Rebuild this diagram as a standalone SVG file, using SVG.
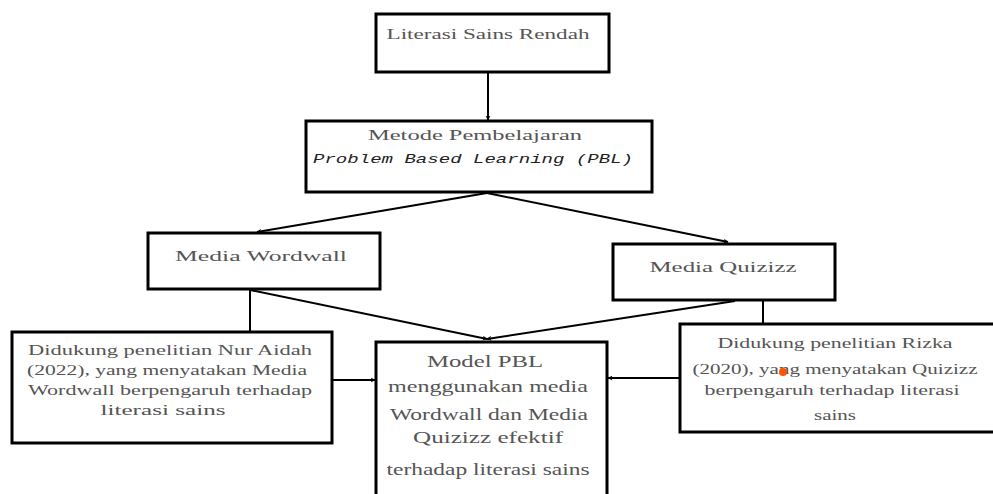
<svg xmlns="http://www.w3.org/2000/svg" width="993" height="494" viewBox="0 0 993 494">
<style>
.box{fill:#fff;stroke:#000;stroke-width:3}
.t{font-family:"Liberation Serif","Times New Roman",serif;fill:#555;text-anchor:middle}
.s15{font-size:15px}
.s17{font-size:17px}
.m{font-family:"Liberation Mono","Courier New",monospace;font-style:italic;font-size:13px;fill:#222;text-anchor:middle}
.c{fill:none;stroke:#000;stroke-width:2}
</style>
<defs>
<marker id="ah" viewBox="0 0 10 10" refX="9" refY="5" markerWidth="5" markerHeight="5" orient="auto" markerUnits="userSpaceOnUse">
<path d="M0,0 L10,5 L0,10 L3,5 Z" fill="#000"/>
</marker>
</defs>
<g id="connectors">
<line class="c" x1="488" y1="72" x2="488" y2="120" marker-end="url(#ah)"/>
<line class="c" x1="487" y1="193" x2="257" y2="232" marker-end="url(#ah)"/>
<line class="c" x1="487" y1="193" x2="728" y2="242" marker-end="url(#ah)"/>
<line class="c" x1="250" y1="290" x2="487" y2="339" marker-end="url(#ah)"/>
<line class="c" x1="735" y1="301" x2="487" y2="339" marker-end="url(#ah)"/>
<line class="c" x1="250" y1="290" x2="250" y2="332"/>
<line class="c" x1="763" y1="301" x2="763" y2="324"/>
<line class="c" x1="332" y1="380" x2="375" y2="380" marker-end="url(#ah)"/>
<line class="c" x1="680" y1="378" x2="608" y2="378" marker-end="url(#ah)"/>
</g>
<g id="n-literasi">
<rect class="box" x="376" y="14" width="233" height="58"/>
<text class="t s15" x="488" y="39" textLength="203" lengthAdjust="spacingAndGlyphs">Literasi Sains Rendah</text>
</g>
<g id="n-metode">
<rect class="box" x="306" y="121" width="346" height="71"/>
<text class="t s15" x="475" y="140" textLength="214" lengthAdjust="spacingAndGlyphs">Metode Pembelajaran</text>
<text class="m" x="473" y="163" textLength="320" lengthAdjust="spacingAndGlyphs">Problem Based Learning (PBL)</text>
</g>
<g id="n-wordwall">
<rect class="box" x="148" y="233" width="232" height="56"/>
<text class="t s15" x="261" y="261" textLength="172" lengthAdjust="spacingAndGlyphs">Media Wordwall</text>
</g>
<g id="n-quizizz">
<rect class="box" x="613" y="244" width="222" height="56"/>
<text class="t s15" x="723" y="272" textLength="147" lengthAdjust="spacingAndGlyphs">Media Quizizz</text>
</g>
<g id="n-nuraidah">
<rect class="box" x="12" y="332" width="320" height="111"/>
<text class="t s15" x="170" y="355" textLength="284" lengthAdjust="spacingAndGlyphs">Didukung penelitian Nur Aidah</text>
<text class="t s15" x="167" y="375" textLength="280" lengthAdjust="spacingAndGlyphs">(2022), yang menyatakan Media</text>
<text class="t s15" x="170" y="395" textLength="284" lengthAdjust="spacingAndGlyphs">Wordwall berpengaruh terhadap</text>
<text class="t s15" x="163" y="415" textLength="125" lengthAdjust="spacingAndGlyphs">literasi sains</text>
</g>
<g id="n-model">
<rect class="box" x="376" y="342" width="231" height="160"/>
<text class="t s17" x="485" y="367" textLength="116" lengthAdjust="spacingAndGlyphs">Model PBL</text>
<text class="t s17" x="488" y="392" textLength="200" lengthAdjust="spacingAndGlyphs">menggunakan media</text>
<text class="t s17" x="489" y="420" textLength="198" lengthAdjust="spacingAndGlyphs">Wordwall dan Media</text>
<text class="t s17" x="488" y="443" textLength="150" lengthAdjust="spacingAndGlyphs">Quizizz efektif</text>
<text class="t s17" x="488" y="475" textLength="203" lengthAdjust="spacingAndGlyphs">terhadap literasi sains</text>
</g>
<g id="n-rizka">
<rect class="box" x="680" y="324" width="330" height="108"/>
<text class="t s15" x="835" y="348" textLength="235" lengthAdjust="spacingAndGlyphs">Didukung penelitian Rizka</text>
<text class="t s15" x="835" y="374" textLength="285" lengthAdjust="spacingAndGlyphs">(2020), yang menyatakan Quizizz</text>
<text class="t s15" x="832" y="395" textLength="255" lengthAdjust="spacingAndGlyphs">berpengaruh terhadap literasi</text>
<text class="t s15" x="835" y="420" textLength="42" lengthAdjust="spacingAndGlyphs">sains</text>
</g>
<circle cx="783" cy="372" r="4" fill="#ff5500"/>
</svg>
